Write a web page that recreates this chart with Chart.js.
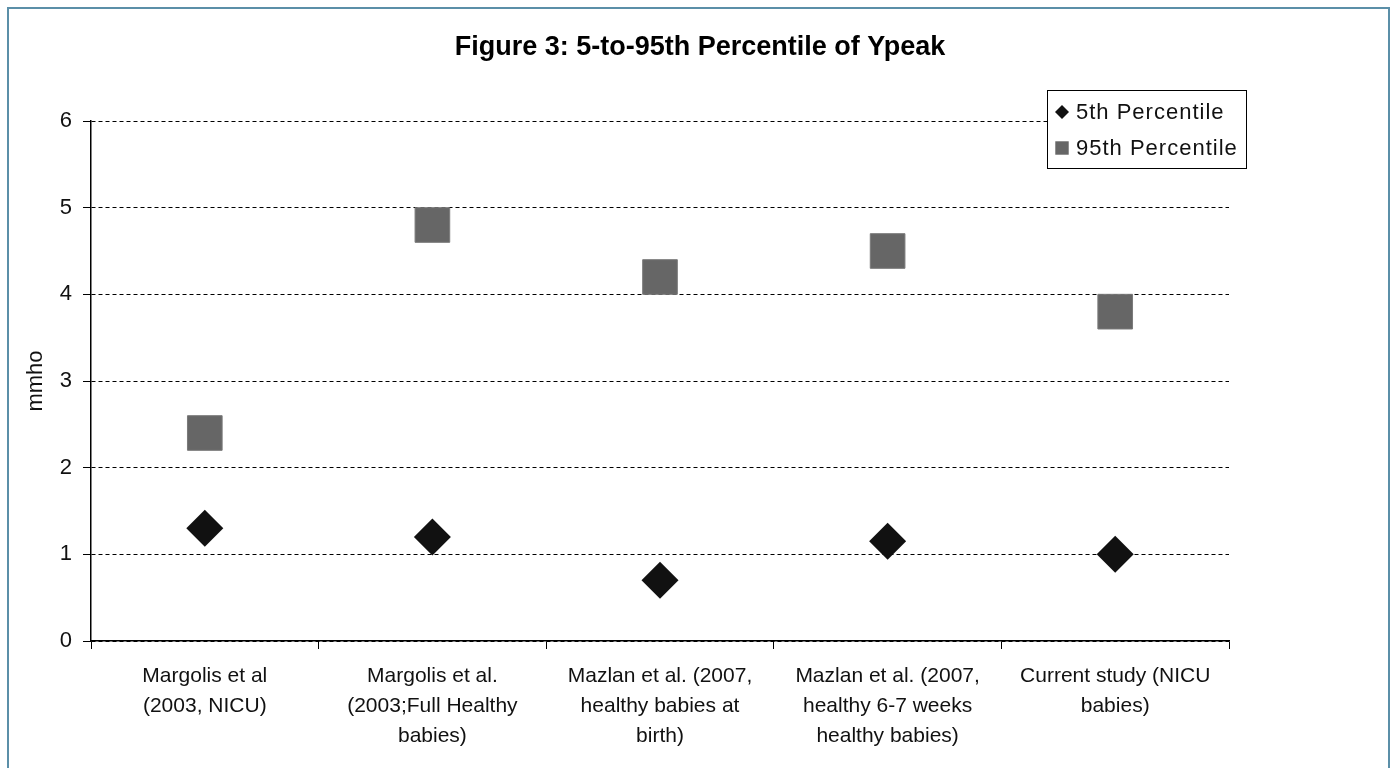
<!DOCTYPE html>
<html>
<head>
<meta charset="utf-8">
<script src="https://cdn.jsdelivr.net/npm/chart.js@4/dist/chart.umd.min.js"></script>
<style>
  html, body { margin: 0; padding: 0; background: #fff; overflow: hidden; }
  #frame { position: absolute; left: 7px; top: 7px; width: 1383px; height: 820px; border: 2px solid #5b8fa8; box-sizing: border-box; }
  #wrap { position: absolute; left: 0; top: 0; width: 1395px; height: 768px; }
</style>
</head>
<body>
<div id="frame"></div>
<div id="wrap"><canvas id="chart"></canvas></div>
<script>
// studies on the x axis (multi-line labels)
const studies = [
  ["Margolis et al", "(2003, NICU)"],
  ["Margolis et al.", "(2003;Full Healthy", "babies)"],
  ["Mazlan et al. (2007,", "healthy babies at", "birth)"],
  ["Mazlan et al. (2007,", "healthy 6-7 weeks", "healthy babies)"],
  ["Current study (NICU", "babies)"]
];
const p5 = [1.3, 1.2, 0.7, 1.15, 1.0];
const p95 = [2.4, 4.8, 4.2, 4.5, 3.8];
const seriesNames = ["5th Percentile", "95th Percentile"];
const yMin = 0, yMax = 6, yStep = 1;

const FONT = "'Liberation Sans', Arial, sans-serif";

// legend drawn in a white box, Excel style
const boxLegend = {
  id: 'boxLegend',
  afterDraw(chart) {
    const ctx = chart.ctx;
    ctx.save();
    ctx.fillStyle = '#fff';
    ctx.fillRect(1047, 90, 200, 79);
    ctx.strokeStyle = '#000';
    ctx.lineWidth = 1;
    ctx.strokeRect(1047.5, 90.5, 199, 78);
    const rows = [112, 148];
    chart.data.datasets.forEach((ds, i) => {
      ctx.fillStyle = ds.pointBackgroundColor;
      ctx.strokeStyle = ds.pointBorderColor;
      Chart.helpers.drawPoint(ctx, {
        pointStyle: ds.pointStyle,
        radius: ds.pointStyle === 'rect' ? 9.5 : 7,
        rotation: 0,
        borderWidth: 0
      }, 1062, rows[i]);
      ctx.fillStyle = '#111';
      ctx.font = '22px ' + FONT;
      ctx.letterSpacing = '1px';
      ctx.textBaseline = 'middle';
      ctx.textAlign = 'left';
      ctx.fillText(ds.label, 1076, rows[i] + 1);
    });
    ctx.restore();
  }
};

new Chart(document.getElementById('chart'), {
  type: 'line',
  data: {
    labels: studies,
    datasets: [
      {
        label: seriesNames[0],
        data: p5,
        showLine: false,
        pointStyle: 'rectRot',
        pointRadius: 18.5,
        pointHoverRadius: 18.5,
        pointBackgroundColor: '#111',
        pointBorderColor: '#111',
        pointBorderWidth: 0
      },
      {
        label: seriesNames[1],
        data: p95,
        showLine: false,
        pointStyle: 'rect',
        pointRadius: 24.5,
        pointHoverRadius: 24.5,
        pointBackgroundColor: '#666666',
        pointBorderColor: '#7a7a7a',
        pointBorderWidth: 1
      }
    ]
  },
  options: {
    responsive: true,
    maintainAspectRatio: false,
    animation: false,
    layout: { padding: { left: 8, right: 3, top: 0, bottom: 0 } },
    plugins: {
      legend: { display: false },
      tooltip: { enabled: false },
      title: {
        display: true,
        text: 'Figure 3: 5-to-95th Percentile of Ypeak',
        color: '#000',
        font: { family: FONT, size: 27, weight: 'bold', lineHeight: 1.2 },
        padding: { top: 31, bottom: 57.6 }
      }
    },
    scales: {
      x: {
        type: 'category',
        offset: true,
        grid: { offset: true, drawOnChartArea: false, drawTicks: true, tickLength: 8, color: '#000', tickColor: '#000' },
        border: { display: true, color: '#000', width: 1.5 },
        ticks: {
          autoSkip: false, maxRotation: 0, minRotation: 0, padding: 12,
          color: '#111',
          font: { family: FONT, size: 21, lineHeight: 1.43 }
        },
        afterFit(scale) { scale.height = 127; }
      },
      y: {
        min: yMin, max: yMax,
        grid: { color: '#000', tickColor: '#000', tickLength: 8, lineWidth: 1 },
        border: { display: true, color: '#000', width: 1.5, dash: [4, 3] },
        ticks: {
          stepSize: yStep, padding: 11, color: '#111',
          font: { family: FONT, size: 22 }
        },
        title: {
          display: true, text: 'mmho', color: '#111',
          font: { family: FONT, size: 22, lineHeight: 1.2 },
          padding: { top: 15, bottom: 0 }
        },
        afterFit(scale) { scale.width = 83; }
      },
      // empty right-hand axis: keeps the plot narrow so the title centres on the page
      yRight: {
        position: 'right',
        min: yMin, max: yMax,
        grid: { display: false, drawTicks: false },
        border: { display: false },
        ticks: { display: false },
        afterFit(scale) { scale.width = 163; }
      }
    }
  },
  plugins: [boxLegend]
});
</script>
</body>
</html>
